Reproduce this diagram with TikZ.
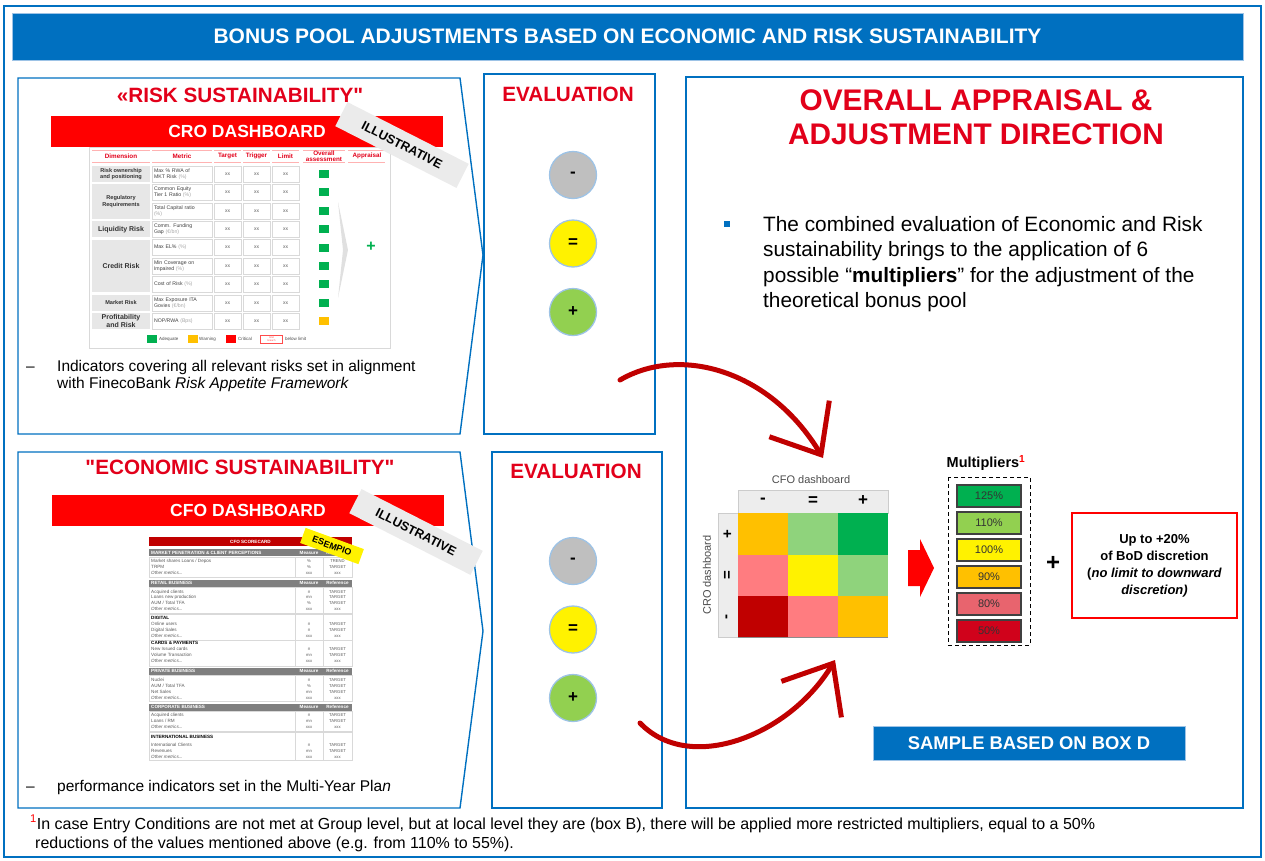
\documentclass[tikz,border=0pt]{standalone}
\usepackage{fontspec}
\setmainfont{Liberation Sans}[Ligatures=TeXOff]
\usetikzlibrary{arrows.meta,positioning}

\definecolor{frameblue}{HTML}{0070C0}
\definecolor{ringblue}{HTML}{9DC3E6}
\definecolor{titlered}{HTML}{E2001A}
\definecolor{barred}{HTML}{FF0000}
\definecolor{darkred}{HTML}{C00000}
\definecolor{okgreen}{HTML}{00B050}
\definecolor{lightgreen}{HTML}{92D050}
\definecolor{softgreen}{HTML}{8FD37C}
\definecolor{warnorange}{HTML}{FFC000}
\definecolor{softpink}{HTML}{FF7C80}
\definecolor{midpink}{HTML}{E8646E}
\definecolor{critred}{HTML}{D0021B}
\definecolor{cellgray}{HTML}{E7E7E7}
\definecolor{linegray}{HTML}{D9D9D9}
\definecolor{headgray}{HTML}{7F7F7F}
\definecolor{txtgray}{HTML}{595959}

\newcommand{\fsz}[2]{\fontsize{#1}{#2}\selectfont}
\newcommand{\unitnote}[1]{\textcolor{black!35}{#1}}
\newcommand{\othermetrics}{\textit{Other metrics...}}

\tikzset{
  panel/.style={draw=frameblue, line width=1.4pt},
  titlebar/.style={fill=frameblue, draw=ringblue, line width=1pt, text=white,
    font=\bfseries\fsz{21}{23}, minimum width=1231, minimum height=47, inner sep=0},
  redtitle/.style={text=titlered, font=\bfseries\fsz{20.7}{23}, inner sep=0},
  dashbar/.style={fill=barred, text=white, font=\bfseries\fsz{17.5}{20},
    minimum width=392, minimum height=31, inner sep=0},
  banner/.style={fill=black!8, rotate=-27, font=\bfseries\fsz{12.5}{14},
    minimum width=136, minimum height=27, inner sep=0},
  evalball/.style={circle, draw=ringblue, line width=1.3pt, minimum size=47,
    inner sep=0, font=\bfseries\fsz{17}{17}},
  bodyline/.style={anchor=base west, inner sep=0, font=\fsz{15.5}{18}},
  crohead/.style={text=titlered, font=\bfseries\fsz{6.3}{5.5}, align=center, inner sep=0},
  dimcell/.style={fill=cellgray, minimum width=58, inner sep=0, align=center, text=black!80},
  metcell/.style={draw=linegray, line width=0.5pt, minimum height=16, text width=56,
    inner xsep=2, inner ysep=0, align=left, text=black!75, font=\fsz{5.2}{6}},
  xxcell/.style={draw=linegray, line width=0.5pt, minimum width=27, minimum height=16,
    inner sep=0, text=txtgray, font=\fsz{5}{5}},
  assess/.style={minimum width=10, minimum height=8, inner sep=0},
  legtxt/.style={anchor=west, inner sep=0, text=black!70, font=\fsz{4.5}{5}},
  cfolab/.style={anchor=west, inner sep=0, text=txtgray, font=\fsz{4.6}{5}},
  cfoval/.style={inner sep=0, text=txtgray, font=\fsz{4.2}{5}},
  cfosec/.style={anchor=west, inner sep=0, text=white, font=\bfseries\fsz{4.6}{5}},
  cfobold/.style={anchor=west, inner sep=0, text=black, font=\bfseries\fsz{4.6}{5}},
  matcell/.style={minimum width=50, minimum height=41.5, inner sep=0},
  mult/.style={draw=black!75, line width=1.2pt, minimum width=64, minimum height=22,
    inner sep=0, font=\fsz{11}{11}, text=black!80},
  brush/.style={draw=darkred, line width=5pt, line cap=round,
    -{Straight Barb[length=42pt, width=70pt]}},
}

\begin{document}
\begin{tikzpicture}[x=1pt, y=-1pt, node distance=68.5pt]
\useasboundingbox (0,0) rectangle (1265,860);

% frame and title bar
\draw[frameblue, line width=2.5pt] (4,6) rectangle (1261,857);
\node (maintitle) [titlebar] at (627.5,36.5) {BONUS POOL ADJUSTMENTS BASED ON ECONOMIC AND RISK SUSTAINABILITY};

% panels
\draw[panel] (18,78) -- (460,78) -- (483,255) -- (460,434) -- (18,434) -- cycle;
\draw[panel] (18,452) -- (460,452) -- (483,631) -- (460,808) -- (18,808) -- cycle;
\draw[panel] (484,74) rectangle (655,434);
\draw[panel] (492,452) rectangle (662,808);
\draw[panel] (686,77) rectangle (1243,808);

% risk sustainability
\node (risktitle) [redtitle] at (240,95) {«RISK SUSTAINABILITY"};
\node (crobar) [dashbar] at (247,131) {CRO DASHBOARD};

\draw[linegray, line width=0.6pt] (89,147) rectangle (390,348);
\foreach \xa/\xb in {92/150, 152/212, 214/241, 243/270, 272/299, 303/345, 348/385} {
  \draw[red!30, line width=0.8pt] (\xa,150) -- (\xb,150);
  \draw[red!30, line width=0.8pt] (\xa,162.5) -- (\xb,162.5);
}
\foreach \cx/\lab [count=\k] in {121/Dimension, 182/Metric, 227.5/Target, 256.5/Trigger,
    285.5/Limit, 324/{Overall\\assessment}, 367/Appraisal}
  \node (crohead\k) [crohead] at (\cx,156) {\lab};

\foreach \cy/\ch/\lab/\dsz/\dld [count=\k] in {174/16/{Risk ownership\\and positioning}/5.6/6.4,
    201.6/34.4/{Regulatory\\Requirements}/5.6/6.4, 229.2/16/{Liquidity Risk}/7/8,
    266/52.8/{Credit Risk}/7/8, 302.8/16/{Market Risk}/5.6/6.4,
    321.2/16/{Profitability\\and Risk}/7/8}
  \node (dim\k) [dimcell, minimum height=\ch, font=\bfseries\fsz{\dsz}{\dld}] at (121,\cy) {\lab};

\foreach \met [count=\r] in {{Max \% RWA of\\MKT Risk \unitnote{(\%)}}, {Common Equity\\Tier 1 Ratio \unitnote{(\%)}},
    {Total Capital ratio\\\unitnote{(\%)}}, {Comm. Funding\\Gap \unitnote{(€/bn)}}, {Max EL\% \unitnote{(\%)}},
    {Min Coverage on\\Impaired \unitnote{(\%)}}, {Cost of Risk \unitnote{(\%)}},
    {Max Exposure ITA\\Govies \unitnote{(€/bn)}}, {NOP/RWA \unitnote{(Bps)}}} {
  \pgfmathsetmacro{\ry}{174+18.4*(\r-1)}
  \node (met\r) [metcell] at (182,\ry) {\met};
  \node (tgt\r) [xxcell] at (227.5,\ry) {xx};
  \node (trg\r) [xxcell] at (256.5,\ry) {xx};
  \node (lim\r) [xxcell] at (285.5,\ry) {xx};
}
\foreach \c [count=\r] in {okgreen,okgreen,okgreen,okgreen,okgreen,okgreen,okgreen,okgreen,warnorange} {
  \pgfmathsetmacro{\ry}{174+18.4*(\r-1)}
  \node (ass\r) [assess, fill=\c] at (324,\ry) {};
}
\fill[black!12] (338,202) -- (348,250) -- (338,298) -- (343,250) -- cycle;
\node (apprplus) [text=okgreen, font=\bfseries\fsz{16}{16}] at (371,247) {+};

% legend
\node (lgok) [assess, fill=okgreen] at (151.5,339) {};
\node (lgoktxt) [legtxt] at (159,339) {Adequate};
\node (lgwarn) [assess, fill=warnorange] at (193,339) {};
\node (lgwarntxt) [legtxt] at (199,339) {Warning};
\node (lgcrit) [assess, fill=barred] at (231,339) {};
\node (lgcrittxt) [legtxt] at (238,339) {Critical};
\node (lgbreach) [draw=red!70, line width=0.6pt, minimum width=22, minimum height=8, inner sep=0,
  align=center, text=red!70, font=\fsz{2.6}{2.8}] at (271.5,339) {limit\\breach};
\node (lgbreachtxt) [legtxt] at (285,339) {below limit};

\node (croillu) [banner] at (402,145) {ILLUSTRATIVE};

\node (riskdash) [bodyline] at (26,371) {–};
\node (riskline1) [bodyline] at (57,371) {Indicators covering all relevant risks set in alignment};
\node (riskline2) [bodyline] at (57,388) {with FinecoBank \textit{Risk Appetite Framework}};

% economic sustainability
\node (econtitle) [redtitle] at (240,467) {"ECONOMIC SUSTAINABILITY"};
\node (cfobar) [dashbar] at (248,510) {CFO DASHBOARD};

\fill[darkred] (149,537) rectangle (352,546);
\node (cfohead) [text=white, font=\bfseries\fsz{4.6}{5}, inner sep=0] at (250.5,541.5) {CFO SCORECARD};
\foreach \ya/\yb in {557/577, 587/613, 614/640, 640/666, 675/701, 711/731, 732/760} {
  \draw[linegray, line width=0.8pt] (149,\ya) rectangle (352,\yb);
  \draw[linegray, line width=0.6pt] (295,\ya) -- (295,\yb);
  \draw[linegray, line width=0.6pt] (323,\ya) -- (323,\yb);
}
\foreach \y/\lab [count=\k] in {552.5/MARKET PENETRATION \& CLIENT PERCEPTIONS, 583/RETAIL BUSINESS,
    671/PRIVATE BUSINESS, 707/CORPORATE BUSINESS} {
  \fill[headgray] (149,\y-3.5) rectangle (352,\y+3.5);
  \node (sec\k) [cfosec] at (151,\y) {\lab};
  \node (secm\k) [cfosec, anchor=center] at (309,\y) {Measure};
  \node (secr\k) [cfosec, anchor=center] at (337.5,\y) {Reference};
}
\foreach \y/\lab [count=\k] in {618/DIGITAL, 643/CARDS \& PAYMENTS, 737/INTERNATIONAL BUSINESS}
  \node (grp\k) [cfobold] at (151,\y) {\lab};
\foreach \y/\lab/\mea/\rf [count=\k] in {
    561/{Market shares Loans / Depos}/\%/TREND, 567/TRPM/\%/TARGET, 573/\othermetrics/xxx/xxx,
    592/Acquired clients/\#/TARGET, 597.5/Loans new production/mn/TARGET,
    603/{AUM / Total TFA}/\%/TARGET, 609/\othermetrics/xxx/xxx,
    624/Online users/\#/TARGET, 630/Digital Sales/\#/TARGET, 636/\othermetrics/xxx/xxx,
    649/New Issued cards/\#/TARGET, 655/Volume Transaction/mn/TARGET, 661/\othermetrics/xxx/xxx,
    680/Nuclei/\#/TARGET, 686/{AUM / Total TFA}/\%/TARGET, 692/Net Sales/mn/TARGET,
    698/\othermetrics/xxx/xxx,
    715/Acquired clients/\#/TARGET, 721/{Loans / RM}/mn/TARGET, 727/\othermetrics/xxx/xxx,
    745/International Clients/\#/TARGET, 751/Revenues/mn/TARGET, 757/\othermetrics/xxx/xxx} {
  \node (cfol\k) [cfolab] at (151,\y) {\lab};
  \node (cfom\k) [cfoval] at (309,\y) {\mea};
  \node (cfor\k) [cfoval] at (337.5,\y) {\rf};
}
\node (esempio) [fill=yellow, rotate=-20, minimum width=62, minimum height=16, inner sep=0,
  font=\bfseries\fsz{9}{9}] at (332,546) {ESEMPIO};
\node (cfoillu) [banner] at (416,532) {ILLUSTRATIVE};

\node (econdash) [bodyline] at (26,791) {–};
\node (econline) [bodyline] at (57,791) {performance indicators set in the Multi-Year Pla\textit{n}};

% evaluation columns
\node (evaltop) [redtitle] at (568,94) {EVALUATION};
\node (riskminus) [evalball, fill=black!25] at (573,175) {-};
\node (riskequal) [evalball, fill=yellow, below of=riskminus] {=};
\node (riskplus) [evalball, fill=lightgreen, below of=riskequal] {+};

\node (evalbot) [redtitle] at (576,471) {EVALUATION};
\node (econminus) [evalball, fill=black!25] at (573,561) {-};
\node (econequal) [evalball, fill=yellow, below of=econminus] {=};
\node (econplus) [evalball, fill=lightgreen, below of=econequal] {+};

% overall appraisal
\node (apptitle1) [text=titlered, font=\bfseries\fsz{29.8}{32}] at (976,100) {OVERALL APPRAISAL \&};
\node (apptitle2) [text=titlered, font=\bfseries\fsz{29.8}{32}] at (976,134) {ADJUSTMENT DIRECTION};
\node (bulletsq) [fill=frameblue, minimum size=5.5, inner sep=0] at (727,224) {};
\foreach \ln [count=\k] in {The combined evaluation of Economic and Risk,
    sustainability brings to the application of 6,
    {possible “\textbf{multipliers}” for the adjustment of the},
    theoretical bonus pool}
  \node (bullet\k) [anchor=base west, inner sep=0, font=\fsz{20.8}{22}] at (763,{231+25.5*(\k-1)}) {\ln};

% matrix
\node (cfolabel) [text=black!70, font=\fsz{11}{11}] at (811,480) {CFO dashboard};
\node (crolabel) [text=black!70, font=\fsz{11}{11}, rotate=90] at (707,575) {CRO dashboard};
\filldraw[fill=black!7, draw=black!20] (738,490) rectangle (888,513);
\filldraw[fill=black!7, draw=black!20] (718,513) rectangle (738,637.5);
\foreach \s [count=\k] in {-,=,+}
  \node (colsign\k) [font=\bfseries\fsz{17}{17}] at (713+50*\k,501) {\s};
\foreach \s [count=\k] in {+,=,-}
  \node (rowsign\k) [font=\bfseries\fsz{15}{15}, rotate=90] at (728,{533.75+41.5*(\k-1)}) {\s};
\foreach \c [count=\k] in {warnorange,softgreen,okgreen,softpink,yellow,softgreen,darkred,softpink,warnorange} {
  \pgfmathsetmacro{\mx}{763+50*mod(\k-1,3)}
  \pgfmathsetmacro{\my}{533.75+41.5*int((\k-1)/3)}
  \node (cell\k) [matcell, fill=\c] at (\mx,\my) {};
}
\draw[black!45, line width=1pt] (738,637.5) -- (888,637.5);

% arrow to multipliers
\fill[barred] (908,550) -- (920,550) -- (920,539) -- (934,568) -- (920,597) -- (920,586) -- (908,586) -- cycle;

% multipliers
\node (multtitle) [font=\bfseries\fsz{14.5}{15}] at (986,463) {Multipliers\textcolor{barred}{\textsuperscript{1}}};
\draw[dash pattern=on 4pt off 3pt, line width=1pt] (948,477) rectangle (1030,645);
\node (m125) [mult, fill=okgreen] at (989,496) {125\%};
\node (m110) [mult, fill=lightgreen, below=3.8pt of m125] {110\%};
\node (m100) [mult, fill=yellow, below=3.8pt of m110] {100\%};
\node (m90) [mult, fill=warnorange, below=3.8pt of m100] {90\%};
\node (m80) [mult, fill=midpink, below=3.8pt of m90] {80\%};
\node (m50) [mult, fill=critred, below=3.8pt of m80] {50\%};

\node (plussign) [font=\bfseries\fsz{24}{24}] at (1053,563) {+};
\node (discbox) [draw=barred, line width=1.8pt, minimum width=165, minimum height=105, align=center,
  font=\bfseries\fsz{13}{17}] at (1154.5,565.5)
  {Up to +20\%\\of BoD discretion\\(\textit{no limit to downward}\\\textit{discretion)}};

\node (samplebar) [fill=frameblue, draw=ringblue, line width=1pt, minimum width=312, minimum height=34,
  text=white, font=\bfseries\fsz{18.4}{20}] at (1029,743.5) {SAMPLE BASED ON BOX D};

% curved arrows
\coordinate (riskfrom) at (620,380);
\coordinate (riskto) at (823,458);
\coordinate (econfrom) at (640,723);
\coordinate (econto) at (835,660);
\draw[brush] (riskfrom) .. controls (680,345) and (770,370) .. (riskto);
\draw[brush] (econfrom) .. controls (690,775) and (790,735) .. (econto);

% footnote
\node (note1) [anchor=base west, inner sep=0, font=\fsz{16}{19}] at (30,829)
  {\textcolor{barred}{\textsuperscript{1}}In case Entry Conditions are not met at Group level, but at local level they are (box B), there will be applied more restricted multipliers, equal to a 50\%};
\node (note2) [anchor=base west, inner sep=0, font=\fsz{16}{19}] at (35,848)
  {reductions of the values mentioned above (e.g. from 110\% to 55\%).};
\end{tikzpicture}
\end{document}
